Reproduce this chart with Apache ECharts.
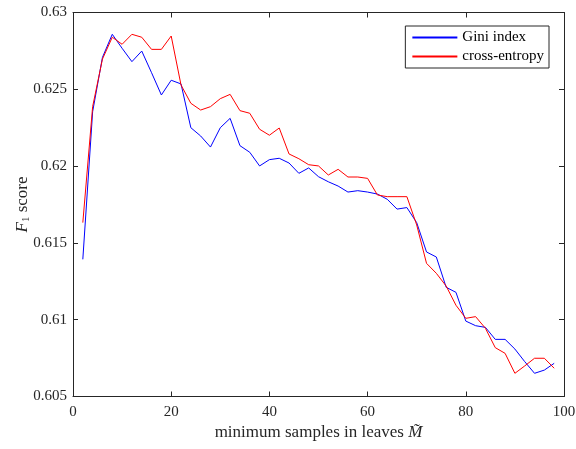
<!DOCTYPE html>
<html><head><meta charset="utf-8">
<script src="https://cdn.jsdelivr.net/npm/echarts@6/dist/echarts.min.js"></script>
<style>html,body{margin:0;padding:0;background:#fff}#c{width:576px;height:449px}</style>
</head><body><div id="c"></div>
<script>
const xs = [2,4,6,8,10,12,14,16,18,20,22,24,26,28,30,32,34,36,38,40,42,44,46,48,50,52,54,56,58,60,62,64,66,68,70,72,74,76,78,80,82,84,86,88,90,92,94,96,98];
const gini = [0.61393,0.62354,0.62708,0.62858,0.62767,0.6268,0.62749,0.62608,0.62463,0.62559,0.62535,0.6225,0.62196,0.62124,0.6225,0.62311,0.62133,0.6209,0.62001,0.62042,0.62051,0.6202,0.61953,0.61988,0.61931,0.61898,0.6187,0.61831,0.6184,0.61831,0.61818,0.61784,0.6172,0.6173,0.61632,0.61441,0.61408,0.61211,0.61178,0.60991,0.60961,0.6095,0.60872,0.60872,0.60809,0.60727,0.60651,0.60672,0.60716];
const entropy = [0.61632,0.62387,0.62697,0.62839,0.62793,0.62858,0.62839,0.6276,0.6276,0.62847,0.62528,0.62409,0.62365,0.62387,0.62439,0.62467,0.62361,0.62344,0.6224,0.62201,0.62248,0.62079,0.62048,0.62009,0.62001,0.61942,0.61979,0.61929,0.61929,0.6192,0.61812,0.61801,0.61801,0.61801,0.61617,0.61367,0.61302,0.61219,0.61094,0.61009,0.6102,0.60944,0.60818,0.60781,0.60651,0.60699,0.60749,0.60749,0.60684];
const seriesNames = ['Gini index','cross-entropy'];
const axisColor = '#262626';
const font = 'Liberation Serif';
const chart = echarts.init(document.getElementById('c'));
const baseX = {type:'value',min:0,max:100,interval:20,
  axisLine:{show:true,onZero:false,lineStyle:{color:axisColor,width:1}},
  axisTick:{show:true,inside:true,length:5,lineStyle:{color:axisColor}},
  splitLine:{show:false}};
const baseY = {type:'value',min:0.605,max:0.63,interval:0.005,
  axisLine:{show:true,onZero:false,lineStyle:{color:axisColor,width:1}},
  axisTick:{show:true,inside:true,length:5,lineStyle:{color:axisColor}},
  splitLine:{show:false}};
chart.setOption({
  animation:false,
  backgroundColor:'#fff',
  textStyle:{fontFamily:font},
  grid:{left:73,right:12,top:12.5,bottom:52.5,containLabel:false,outerBoundsMode:'none'},
  legend:{right:27,top:26,orient:'vertical',itemWidth:45,itemHeight:2,itemGap:4,
    padding:[4,5,4,7],borderColor:'#262626',borderWidth:1,backgroundColor:'#fff',
    icon:'rect',textStyle:{fontFamily:font,fontSize:15,color:'#000'},data:seriesNames},
  xAxis:[
    Object.assign({},baseX,{position:'bottom',
      axisLabel:{color:'#262626',fontSize:15,fontFamily:font,margin:8},
      name:'{n|minimum samples in leaves }{m|M̃}',nameLocation:'middle',nameGap:28,nameMoveOverlap:false,
      nameTextStyle:{rich:{n:{fontFamily:font,fontSize:17,color:'#262626'},m:{fontFamily:font,fontSize:17,fontStyle:'italic',color:'#262626'}}}}),
    Object.assign({},baseX,{position:'top',axisLabel:{show:false}})
  ],
  yAxis:[
    Object.assign({},baseY,{position:'left',
      axisLabel:{color:'#262626',fontSize:15,fontFamily:font,margin:6,formatter:v=>String(+v.toFixed(3))},
      name:'{f|F}{s|1}{n| score}',nameLocation:'middle',nameGap:41,nameRotate:90,nameMoveOverlap:false,
      nameTextStyle:{rich:{f:{fontFamily:font,fontSize:17,fontStyle:'italic',color:'#262626'},s:{fontFamily:font,fontSize:11,color:'#262626',verticalAlign:'bottom',padding:[7,0,0,0]},n:{fontFamily:font,fontSize:17,color:'#262626'}}}}),
    Object.assign({},baseY,{position:'right',axisLabel:{show:false}})
  ],
  series:[
    {name:seriesNames[0],type:'line',data:xs.map((x,i)=>[x,gini[i]]),symbol:'none',lineStyle:{color:'#0000ff',width:1},itemStyle:{color:'#0000ff'}},
    {name:seriesNames[1],type:'line',data:xs.map((x,i)=>[x,entropy[i]]),symbol:'none',lineStyle:{color:'#ff0000',width:1},itemStyle:{color:'#ff0000'}}
  ]
});
</script></body></html>
